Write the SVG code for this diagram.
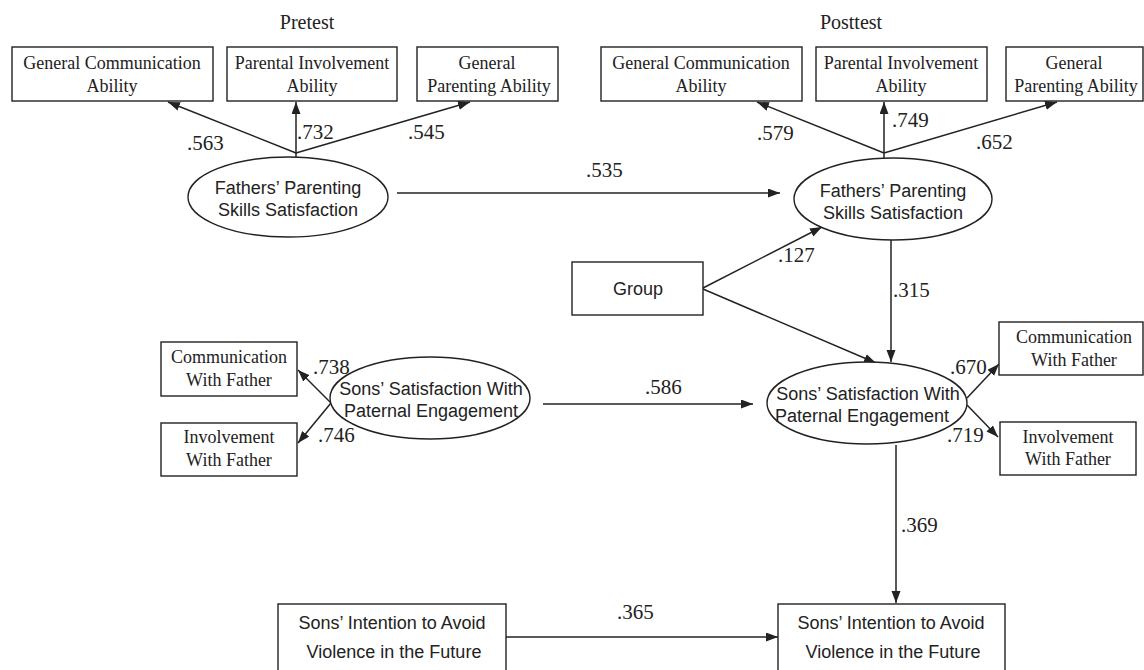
<svg xmlns="http://www.w3.org/2000/svg" width="1144" height="670" viewBox="0 0 1144 670">
<style>
.box{fill:#fff;stroke:#222;stroke-width:1.4}
.ell{fill:#fff;stroke:#222;stroke-width:1.4}
.t{font-family:"Liberation Serif","Times New Roman",serif;font-size:18px;fill:#222;text-anchor:middle}
.s{font-family:"Liberation Sans",Arial,sans-serif;font-size:18px;fill:#222;text-anchor:middle}
.n{font-family:"Liberation Serif","Times New Roman",serif;font-size:21px;fill:#222}
.ttl{font-family:"Liberation Serif","Times New Roman",serif;font-size:20px;fill:#222;text-anchor:middle}
.c{stroke:#222;stroke-width:1.5;fill:none}
.a{marker-end:url(#arr)}
</style>
<defs>
<marker id="arr" markerUnits="userSpaceOnUse" markerWidth="13" markerHeight="10" refX="12" refY="4.5" orient="auto">
<path d="M0,0 L12,4.5 L0,9 z" fill="#222"/>
</marker>
</defs>
<rect width="1144" height="670" fill="#fff"/>
<text class="ttl" x="307" y="29">Pretest</text>
<text class="ttl" x="851" y="29">Posttest</text>

<g id="connectors">
<line class="c" x1="296" y1="157" x2="296" y2="153"/>
<line class="c a" x1="296" y1="153" x2="168" y2="102"/>
<line class="c a" x1="296" y1="153" x2="296" y2="102"/>
<line class="c a" x1="296" y1="153" x2="470" y2="102"/>
<line class="c" x1="884" y1="158" x2="884" y2="153"/>
<line class="c a" x1="884" y1="153" x2="757" y2="102"/>
<line class="c a" x1="884" y1="153" x2="884" y2="102"/>
<line class="c a" x1="884" y1="153" x2="1057" y2="102"/>
<line class="c a" x1="397" y1="193" x2="780" y2="193"/>
<line class="c a" x1="703" y1="288" x2="822" y2="227"/>
<line class="c a" x1="703" y1="289" x2="876" y2="363"/>
<line class="c a" x1="891" y1="240" x2="891" y2="362"/>
<line class="c a" x1="967" y1="398" x2="999" y2="364"/>
<line class="c a" x1="967" y1="405" x2="998" y2="437"/>
<line class="c a" x1="896" y1="445" x2="896" y2="603"/>
<line class="c a" x1="506" y1="637" x2="778" y2="637"/>
<line class="c a" x1="331" y1="403" x2="298" y2="370"/>
<line class="c a" x1="331" y1="403" x2="298" y2="443"/>
<line class="c a" x1="543" y1="404" x2="753" y2="404"/>
</g>

<g id="labels">
<text class="n" x="187" y="150">.563</text>
<text class="n" x="297" y="139">.732</text>
<text class="n" x="408" y="139">.545</text>
<text class="n" x="586" y="177">.535</text>
<text class="n" x="757" y="140">.579</text>
<text class="n" x="892" y="127">.749</text>
<text class="n" x="976" y="149">.652</text>
<text class="n" x="778" y="262">.127</text>
<text class="n" x="893" y="297">.315</text>
<text class="n" x="645" y="394">.586</text>
<text class="n" x="313" y="374">.738</text>
<text class="n" x="318" y="442">.746</text>
<text class="n" x="950" y="374">.670</text>
<text class="n" x="947" y="442">.719</text>
<text class="n" x="901" y="532">.369</text>
<text class="n" x="617" y="619">.365</text>
</g>

<g id="pre-gca"><rect class="box" x="12" y="47" width="201" height="54"/><text class="t" x="112" y="69">General Communication</text><text class="t" x="112" y="92">Ability</text></g>
<g id="pre-pia"><rect class="box" x="227" y="47" width="170" height="54"/><text class="t" x="312" y="69">Parental Involvement</text><text class="t" x="312" y="92">Ability</text></g>
<g id="pre-gpa"><rect class="box" x="417" y="47" width="141" height="54"/><text class="t" x="487" y="69">General</text><text class="t" x="489" y="92">Parenting Ability</text></g>

<g id="post-gca"><rect class="box" x="601" y="47" width="201" height="54"/><text class="t" x="701" y="69">General Communication</text><text class="t" x="701" y="92">Ability</text></g>
<g id="post-pia"><rect class="box" x="816" y="47" width="171" height="54"/><text class="t" x="901" y="69">Parental Involvement</text><text class="t" x="901" y="92">Ability</text></g>
<g id="post-gpa"><rect class="box" x="1006" y="47" width="137" height="54"/><text class="t" x="1074" y="69">General</text><text class="t" x="1076" y="92">Parenting Ability</text></g>

<g id="pre-fathers"><ellipse class="ell" cx="288" cy="197" rx="100" ry="40"/><text class="s" x="288" y="194">Fathers’ Parenting</text><text class="s" x="288" y="216">Skills Satisfaction</text></g>
<g id="post-fathers"><ellipse class="ell" cx="893" cy="199" rx="99" ry="41"/><text class="s" x="893" y="197">Fathers’ Parenting</text><text class="s" x="893" y="219">Skills Satisfaction</text></g>

<g id="group"><rect class="box" x="572" y="262" width="131" height="53"/><text class="s" x="638" y="295">Group</text></g>

<g id="pre-sons"><ellipse class="ell" cx="430" cy="398" rx="100" ry="41"/><text class="s" x="431" y="395">Sons’ Satisfaction With</text><text class="s" x="431" y="417">Paternal Engagement</text></g>
<g id="post-sons"><ellipse class="ell" cx="867" cy="403" rx="100" ry="41"/><text class="s" x="868" y="400">Sons’ Satisfaction With</text><text class="s" x="862" y="422">Paternal Engagement</text></g>

<g id="pre-comm"><rect class="box" x="161" y="342" width="136" height="54"/><text class="t" x="229" y="363">Communication</text><text class="t" x="229" y="386">With Father</text></g>
<g id="pre-inv"><rect class="box" x="161" y="423" width="136" height="53"/><text class="t" x="229" y="443">Involvement</text><text class="t" x="229" y="466">With Father</text></g>
<g id="post-comm"><rect class="box" x="999" y="322" width="144" height="53"/><text class="t" x="1074" y="343">Communication</text><text class="t" x="1074" y="366">With Father</text></g>
<g id="post-inv"><rect class="box" x="1000" y="422" width="136" height="53"/><text class="t" x="1068" y="443">Involvement</text><text class="t" x="1068" y="465">With Father</text></g>

<g id="pre-intent"><rect class="box" x="278" y="604" width="228" height="70"/><text class="s" x="392" y="629">Sons’ Intention to Avoid</text><text class="s" x="394" y="658">Violence in the Future</text></g>
<g id="post-intent"><rect class="box" x="778" y="604" width="227" height="70"/><text class="s" x="891" y="629">Sons’ Intention to Avoid</text><text class="s" x="893" y="658">Violence in the Future</text></g>
</svg>
